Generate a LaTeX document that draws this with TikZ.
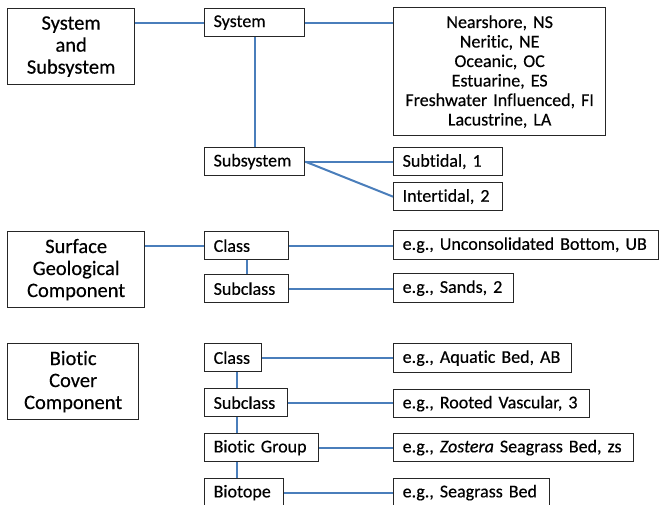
\documentclass[tikz,border=0pt]{standalone}
\usepackage{fontspec}
\setmainfont{Carlito}[Ligatures=NoCommon, FakeBold=0.4]
\usepackage{tikz}
\definecolor{linkblue}{HTML}{4A7EBB}
\definecolor{boxgray}{HTML}{262626}
\tikzstyle{heading}=[rectangle, draw=boxgray, line width=1.3pt, anchor=north west, align=center, minimum height=76pt, inner xsep=0pt, inner ysep=0pt, font=\fontsize{20.5}{22}\selectfont]
\tikzstyle{level}=[rectangle, draw=boxgray, line width=1.3pt, anchor=north west, align=left, minimum height=28pt, inner xsep=9pt, inner ysep=0pt, font=\fontsize{18}{19.5}\selectfont]
\tikzstyle{link}=[draw=linkblue, line width=2pt]

\begin{document}
\begin{tikzpicture}[x=1pt, y=-1pt]
					\useasboundingbox (0,0) rectangle (659,505);
					% system and subsystem
					\node[heading, text width=127pt] (hsys) at (7,8) {System\\and\\Subsystem};
					\node[level, text width=82pt] (sys) at (204,8) {System};
					\node[level, text width=82pt] (subsys) at (204,147) {Subsystem};
					\node[level, align=center, text width=194pt, minimum height=128pt] (syslist) at (393,7) {Nearshore, NS\\Neritic, NE\\Oceanic, OC\\Estuarine, ES\\Freshwater Influenced, FI\\Lacustrine, LA};
					\node[level, text width=91pt] (subt) at (393,147) {Subtidal, 1};
					\node[level, text width=91pt] (intt) at (393,182) {Intertidal, 2};
					\path[link] (hsys.east |- sys.west) -- (sys.west);
					\path[link] (sys.east) -- (sys.east -| syslist.west);
					\path[link] (sys.south) -- (subsys.north);
					\path[link] (subsys.east) -- (subt.west);
					\path[link] (subsys.east) -- (intt.west);
					% surface geological component
					\node[heading, text width=137pt] (hgeo) at (7,231) {Surface\\Geological\\Component};
					\node[level, text width=66pt] (gclass) at (204,231) {Class};
					\node[level, text width=66pt] (gsub) at (204,274) {Subclass};
					\node[level, text width=247pt, minimum height=29pt] (gclassex) at (393,230) {e.g., Unconsolidated Bottom, UB};
					\node[level, text width=102pt, minimum height=29pt] (gsubex) at (393,273) {e.g., Sands, 2};
					\path[link] (hgeo.east |- gclass.west) -- (gclass.west);
					\path[link] (gclass.south) -- (gsub.north);
					\path[link] (gclass.east) -- (gclass.east -| gclassex.west);
					\path[link] (gsub.east) -- (gsub.east -| gsubex.west);
					% biotic cover component
					\node[heading, text width=131pt] (hbio) at (7,343) {Biotic\\Cover\\Component};
					\node[level, text width=39pt] (bclass) at (204,343) {Class};
					\node[level, text width=65pt] (bsub) at (204,388) {Subclass};
					\node[level, text width=96pt] (bgroup) at (204,433) {Biotic Group};
					\node[level, text width=61pt] (btope) at (204,478) {Biotope};
					\node[level, text width=160pt, minimum height=29pt] (bclassex) at (393,343) {e.g., Aquatic Bed, AB};
					\node[level, text width=178pt] (bsubex) at (393,389) {e.g., Rooted Vascular, 3};
					\node[level, text width=222pt] (bgroupex) at (393,433) {e.g., \textit{Zostera} Seagrass Bed, zs};
					\node[level, text width=138pt] (btopeex) at (393,478) {e.g., Seagrass Bed};
					\path[link] ([xshift=3.5pt]bclass.south) -- ([xshift=3.5pt]bclass.south |- bsub.north);
					\path[link] ([xshift=3.5pt]bclass.south |- bsub.south) -- ([xshift=3.5pt]bclass.south |- bgroup.north);
					\path[link] ([xshift=3.5pt]bclass.south |- bgroup.south) -- ([xshift=3.5pt]bclass.south |- btope.north);
					\path[link] (bclass.east) -- (bclass.east -| bclassex.west);
					\path[link] (bsub.east) -- (bsub.east -| bsubex.west);
					\path[link] (bgroup.east) -- (bgroupex.west);
					\path[link] (btope.east) -- (btopeex.west);
				\end{tikzpicture}
\end{document}
